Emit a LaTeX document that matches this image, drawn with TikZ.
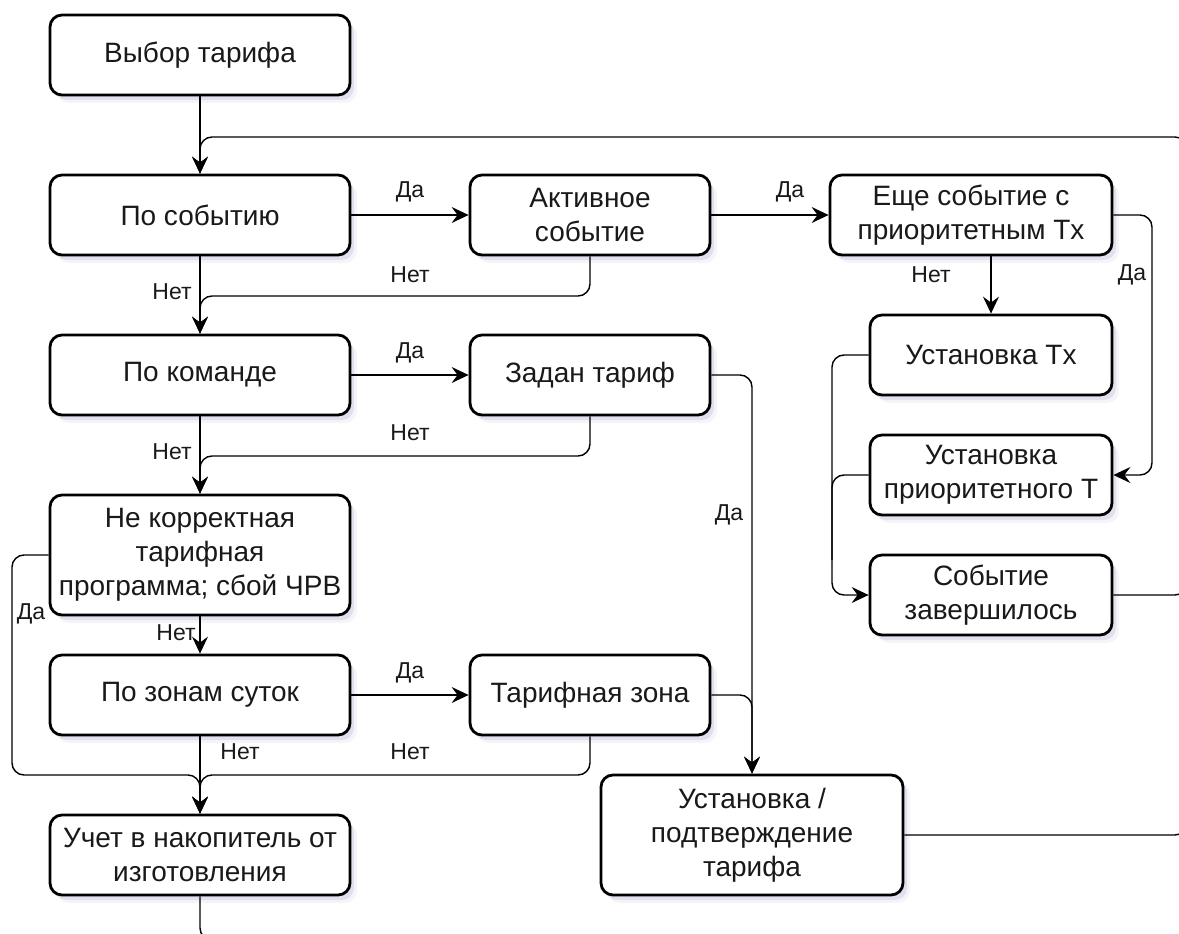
\documentclass[tikz,border=0pt]{standalone}
\usepackage{fontspec}
\setmainfont{Liberation Sans}
\usetikzlibrary{arrows.meta,shadows,calc}
\definecolor{shadowc}{RGB}{130,130,180}
\definecolor{txt}{RGB}{25,25,25}
\begin{document}
\begin{tikzpicture}[x=1pt,y=-1pt,
  box/.style={draw, line width=2.8pt, rounded corners=12pt, fill=white, align=center,
    inner sep=0pt, text=txt, font=\fontsize{28}{34}\selectfont,
    drop shadow={shadow xshift=7pt, shadow yshift=-8pt, opacity=0.08, fill=shadowc},
    drop shadow={shadow xshift=4pt, shadow yshift=-5pt, opacity=0.18, fill=shadowc}},
  conn/.style={line width=1.4pt, rounded corners=12pt},
  arr/.style={conn, -{Stealth[length=17pt,width=16pt,inset=6pt]}},
  lbl/.style={font=\fontsize{23}{28}\selectfont, inner sep=0pt, text=txt}
]
\useasboundingbox (0,0) rectangle (1179,934);

% left column
\node[box, minimum width=300pt, minimum height=80pt]  (n1) at (200,55)  {Выбор тарифа};
\node[box, minimum width=300pt, minimum height=80pt]  (n2) at (200,215) {По событию};
\node[box, minimum width=300pt, minimum height=80pt]  (n3) at (200,375) {По команде};
\node[box, minimum width=300pt, minimum height=120pt] (n4) at (200,555) {Не корректная\\тарифная\\программа; сбой ЧРВ};
\node[box, minimum width=300pt, minimum height=80pt]  (n5) at (200,695) {По зонам суток};
\node[box, minimum width=300pt, minimum height=80pt]  (n6) at (200,855) {Учет в накопитель от\\изготовления};

% middle column
\node[box, minimum width=240pt, minimum height=80pt]  (m1) at (590,215) {Активное\\событие};
\node[box, minimum width=240pt, minimum height=80pt]  (m2) at (590,375) {Задан тариф};
\node[box, minimum width=240pt, minimum height=80pt]  (m3) at (590,695) {Тарифная зона};
\node[box, minimum width=302pt, minimum height=120pt] (m4) at (752,835) {Установка /\\подтверждение\\тарифа};

% right column
\node[box, minimum width=282pt, minimum height=80pt]  (r1) at (971,215) {Еще событие с\\приоритетным Tx};
\node[box, minimum width=242pt, minimum height=80pt]  (r2) at (991,355) {Установка Tx};
\node[box, minimum width=242pt, minimum height=80pt]  (r3) at (991,475) {Установка\\приоритетного Т};
\node[box, minimum width=242pt, minimum height=80pt]  (r4) at (991,595) {Событие\\завершилось};

% free ends beyond the picture edge
\coordinate (rx) at (1187,137);
\coordinate (bx) at (700,940);

% connectors
\draw[arr] (n1) -- (n2);
\draw[arr] (m4.east) -| (rx) -| (n2.north);
\draw[conn] (r4.east) -| (1187,520);
\draw[conn] (n6.south) |- (bx);

\draw[arr] (n2) -- (m1);
\draw[arr] (m1) -- (r1);
\draw[arr] (m1.south) |- (200,296) -- (n3.north);
\draw[arr] (n2) -- (n3);

\draw[arr] (n3) -- (m2);
\draw[arr] (m2.south) |- (200,456) -- (n4.north);
\draw[arr] (n3) -- (n4);

\draw[arr] (n4.west) -| (12,775) -| (n6.north);
\draw[arr] (n4) -- (n5);
\draw[arr] (n5) -- (m3);
\draw[arr] (m3.south) |- (200,775) -- (n6.north);
\draw[arr] (n5) -- (n6);

\draw[arr] (m2.east) -| (m4.north);
\draw[arr] (m3.east) -| (m4.north);

\draw[arr] (r2.north |- r1.south) -- (r2.north);
\draw[arr] (r1.east) -| (1152,475) -- (r3.east);
\draw[arr] (r2.west) -| (832,595) -- (r4.west);
\draw[conn] (r3.west) -| (832,560);

% labels
\node[lbl] at (410,192) {Да};
\node[lbl] at (790,192) {Да};
\node[lbl] at (410,275) {Нет};
\node[lbl] at (172,292) {Нет};
\node[lbl] at (410,353) {Да};
\node[lbl] at (410,433) {Нет};
\node[lbl] at (172,452) {Нет};
\node[lbl] at (31,614) {Да};
\node[lbl] at (176,633) {Нет};
\node[lbl] at (410,673) {Да};
\node[lbl] at (240,752) {Нет};
\node[lbl] at (410,752) {Нет};
\node[lbl] at (729,515) {Да};
\node[lbl] at (931,275) {Нет};
\node[lbl] at (1132,275) {Да};
\end{tikzpicture}
\end{document}
